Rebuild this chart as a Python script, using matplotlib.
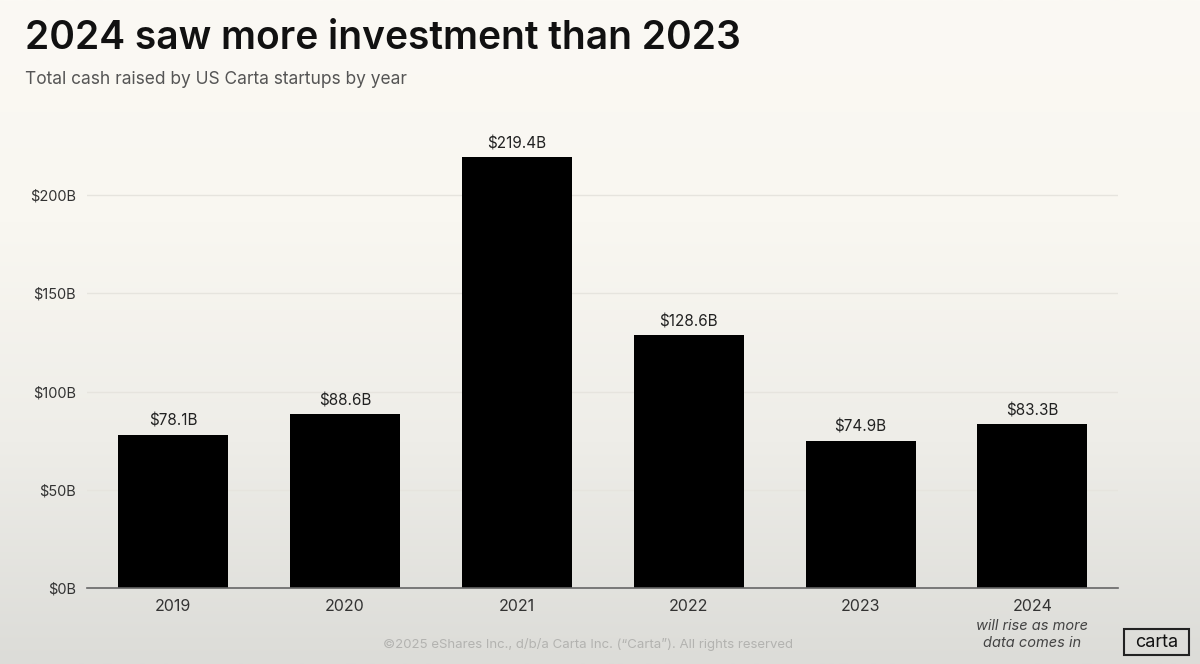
import matplotlib

matplotlib.use("Agg")
import matplotlib.pyplot as plt
import numpy as np
from matplotlib.colors import LinearSegmentedColormap
from matplotlib.patches import FancyBboxPatch

years = ["2019", "2020", "2021", "2022", "2023", "2024"]
cash_b = [78.1, 88.6, 219.4, 128.6, 74.9, 83.3]
value_labels = ["$78.1B", "$88.6B", "$219.4B", "$128.6B", "$74.9B", "$83.3B"]
y_ticks = [0, 50, 100, 150, 200]
y_tick_labels = ["$0B", "$50B", "$100B", "$150B", "$200B"]

FONT = ["Inter", "DejaVu Sans"]
plt.rcParams["font.family"] = FONT

fig = plt.figure(figsize=(12, 6.64), dpi=100)

# background: cream at the top fading to light grey at the bottom
bg = fig.add_axes([0, 0, 1, 1], zorder=-10)
grad = LinearSegmentedColormap.from_list(
    "bg", ["#dcdcd8", "#eeede8", "#f9f7f1", "#fbf9f4"]
)
bg.imshow(np.linspace(0, 1, 256).reshape(-1, 1)[::-1], aspect="auto",
          cmap=grad, extent=[0, 1, 0, 1])
bg.set_axis_off()

ax = fig.add_axes([0.0725, 0.1145, 0.8595, 0.6745])
ax.patch.set_alpha(0)
x = np.arange(len(years))
ax.bar(x, cash_b, width=0.64, color="black", zorder=3)
for xi, v, lab in zip(x, cash_b, value_labels):
    ax.text(xi, v + 3, lab, ha="center", va="bottom", fontsize=11, color="#222222")

ax.set_xlim(-0.5, 5.5)
ax.set_ylim(0, 228)
ax.set_yticks(y_ticks)
ax.set_yticklabels(y_tick_labels, fontsize=10.5, color="#333333")
ax.set_xticks(x)
ax.set_xticklabels(years, fontsize=11.5, color="#333333")
ax.tick_params(length=0, pad=8)
ax.grid(axis="y", color="#e6e4de", linewidth=1, zorder=0)
for s in ["top", "right", "left"]:
    ax.spines[s].set_visible(False)
ax.spines["bottom"].set_color("#666666")
ax.spines["bottom"].set_linewidth(1.2)
ax.spines["bottom"].set_zorder(4)

ax.text(5, -0.07, "will rise as more\ndata comes in", transform=ax.get_xaxis_transform(),
        ha="center", va="top", fontsize=10.5, style="italic", color="#444444",
        linespacing=1.25)

fig.text(0.021, 0.942, "2024 saw more investment than 2023", fontsize=28,
         fontweight="semibold", color="#111111", va="center", ha="left")
fig.text(0.021, 0.88, "Total cash raised by US Carta startups by year", fontsize=12.5,
         color="#555555", va="center", ha="left")
fig.text(0.49, 0.029, "\u00a92025 eShares Inc., d/b/a Carta Inc. (\u201cCarta\u201d). All rights reserved",
         fontsize=9.5, color="#b3b3b0", ha="center", va="center")

logo = FancyBboxPatch((0.9365, 0.013), 0.054, 0.039, boxstyle="square,pad=0",
                      transform=fig.transFigure, facecolor="none",
                      edgecolor="#222222", linewidth=1.5)
fig.add_artist(logo)
fig.text(0.9635, 0.0325, "carta", fontsize=13, color="#111111",
         ha="center", va="center")

fig.savefig("out.png", dpi=100)
